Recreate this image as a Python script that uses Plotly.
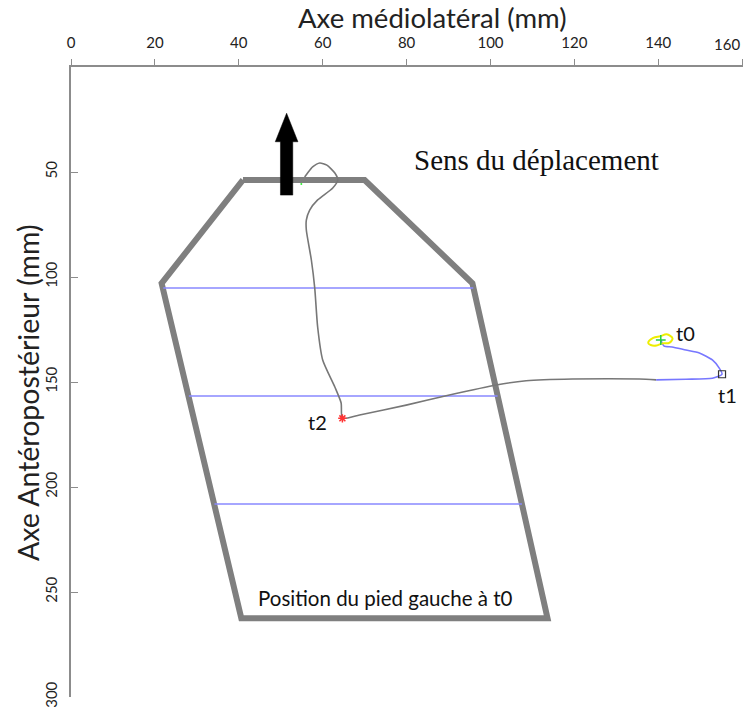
import plotly.graph_objects as go

# ---------------- data (mm) ----------------
x_ticks = [0, 20, 40, 60, 80, 100, 120, 140, 160]
x_tick_labels = ["0", "20", "40", "60", "80", "100", "120", "140", ""]
x_last_tick_label = "160"   # drawn right-aligned so it stays inside the page
y_ticks = [50, 100, 150, 200, 250, 300]

x_title = "Axe médiolatéral (mm)"
y_title = "Axe Antéropostérieur (mm)"

# outline of the left foot at t0 (closed polygon)
foot_x = [41.0, 70.0, 95.7, 113.6, 40.6, 21.6, 41.0]
foot_y = [53.8, 53.8, 103.0, 262.5, 262.5, 103.0, 53.8]

# horizontal bands inside the foot
band_y = [105.2, 156.7, 208.1]
band_x_start = [22.0, 28.1, 34.2]
band_x_end = [95.9, 101.7, 107.5]

# trajectory t0 -> t1 (blue part)
blue_path_x = [140.6, 141.4, 143.3, 146.6, 149.8, 152.9, 154.5, 155.2, 152.9, 146.6, 139.5]
blue_path_y = [130.0, 132.9, 133.3, 134.8, 136.2, 139.5, 143.3, 146.3, 148.2, 148.7, 149.0]

# trajectory t1 -> t2 -> end (grey part)
grey_path_x = [139.5, 135.5, 119.5, 108.5, 101.4, 90.2, 79.9, 68.8, 64.7, 64.4, 62.9,
               60.0, 58.8, 58.1, 57.3, 56.1, 56.1, 56.9, 58.8, 62.4, 63.6, 62.9, 61.0,
               59.3, 57.6, 56.4, 55.7]
grey_path_y = [149.0, 148.6, 148.6, 149.4, 151.4, 156.2, 161.0, 165.7, 167.3, 160.0, 152.4,
               139.5, 123.8, 105.2, 91.9, 77.6, 72.9, 68.1, 63.3, 57.6, 53.8, 50.5, 46.7,
               45.7, 47.6, 50.5, 52.4]

# small yellow scribble around t0
scribble_x = [137.6, 138.8, 140.5, 142.0, 143.4, 142.6, 141.0, 139.6, 138.2, 137.6]
scribble_y = [131.4, 129.0, 128.2, 127.3, 129.2, 131.4, 131.6, 132.6, 132.4, 131.4]

# key instants
t0_point = (140.6, 130.0)
t1_point = (155.2, 146.3)
t2_point = (64.7, 167.3)
green_dot = (54.9, 55.7)

event_labels = ["t0", "t1", "t2"]
event_label_x = [146.4, 156.4, 58.8]
event_label_y = [126.6, 156.2, 169.0]

direction_text = "Sens du déplacement"
foot_text = "Position du pied gauche à t0"

# direction arrow (mm)
arrow_x = 51.4
arrow_tip_y = 22.0
arrow_head_base_y = 35.6
arrow_tail_y = 61.0
arrow_head_half = 2.7
arrow_shaft_half = 1.47

# ---------------- figure ----------------
fig = go.Figure()

fig.add_trace(go.Scatter(
    x=foot_x, y=foot_y, mode="lines",
    line=dict(color="#7f7f7f", width=6), hoverinfo="skip", showlegend=False))

bx, by = [], []
for yy, xa, xb in zip(band_y, band_x_start, band_x_end):
    bx += [xa, xb, None]
    by += [yy, yy, None]
fig.add_trace(go.Scatter(
    x=bx, y=by, mode="lines",
    line=dict(color="#8888ff", width=1.5), hoverinfo="skip", showlegend=False))

fig.add_trace(go.Scatter(
    x=grey_path_x, y=grey_path_y, mode="lines",
    line=dict(color="#777777", width=1.6, shape="spline", smoothing=0.6),
    hoverinfo="skip", showlegend=False))

fig.add_trace(go.Scatter(
    x=blue_path_x, y=blue_path_y, mode="lines",
    line=dict(color="#7777ff", width=1.6, shape="spline", smoothing=0.6),
    hoverinfo="skip", showlegend=False))

fig.add_trace(go.Scatter(
    x=scribble_x, y=scribble_y, mode="lines",
    line=dict(color="#eeee00", width=2, shape="spline"),
    hoverinfo="skip", showlegend=False))

fig.add_trace(go.Scatter(
    x=[t0_point[0]], y=[t0_point[1]], mode="markers",
    marker=dict(symbol="cross-thin", size=7, color="#22cc44",
                line=dict(color="#22cc44", width=1.5)),
    hoverinfo="skip", showlegend=False))

fig.add_trace(go.Scatter(
    x=[t1_point[0]], y=[t1_point[1]], mode="markers",
    marker=dict(symbol="square-open", size=7, color="#333333",
                line=dict(color="#333333", width=1.2)),
    hoverinfo="skip", showlegend=False))

fig.add_trace(go.Scatter(
    x=[t2_point[0]], y=[t2_point[1]], mode="markers",
    marker=dict(symbol="asterisk-open", size=7, color="#ff3333",
                line=dict(color="#ff3333", width=1.5)),
    hoverinfo="skip", showlegend=False))

fig.add_trace(go.Scatter(
    x=[green_dot[0]], y=[green_dot[1]], mode="markers",
    marker=dict(symbol="circle", size=2, color="#33ee33"),
    hoverinfo="skip", showlegend=False))

# arrow polygon built from its parameters
arrow_poly_x = [arrow_x, arrow_x + arrow_head_half, arrow_x + arrow_shaft_half,
                arrow_x + arrow_shaft_half, arrow_x - arrow_shaft_half,
                arrow_x - arrow_shaft_half, arrow_x - arrow_head_half, arrow_x]
arrow_poly_y = [arrow_tip_y, arrow_head_base_y, arrow_head_base_y, arrow_tail_y,
                arrow_tail_y, arrow_head_base_y, arrow_head_base_y, arrow_tip_y]
fig.add_trace(go.Scatter(
    x=arrow_poly_x, y=arrow_poly_y, mode="lines", fill="toself",
    fillcolor="black", line=dict(color="black", width=0.5),
    hoverinfo="skip", showlegend=False))

# labels
for lab, lx, ly in zip(event_labels, event_label_x, event_label_y):
    fig.add_annotation(x=lx, y=ly, text=lab, showarrow=False,
                       font=dict(family="Lato", size=20, color="#111111"))

fig.add_annotation(x=81.4, y=44.3, text=direction_text, showarrow=False,
                   xanchor="left",
                   font=dict(family="Liberation Serif", size=29, color="#111111"))
fig.add_annotation(x=75.0, y=252.9, text=foot_text, showarrow=False,
                   font=dict(family="Lato", size=20.5, color="#111111"))

# last x tick label, right-aligned on its tick
fig.add_annotation(x=x_ticks[-1], xref="x", yref="paper", y=1.0,
                   xanchor="right", yanchor="bottom", yshift=12,
                   text=x_last_tick_label, showarrow=False,
                   font=dict(family="Lato", size=15, color="#222222"))

# axis titles (placed as in the original, slightly off-centre)
fig.add_annotation(xref="paper", yref="paper", x=0.537, y=1.0,
                   xanchor="center", yanchor="bottom", yshift=31,
                   text=x_title, showarrow=False,
                   font=dict(family="Lato", size=27.5, color="#222222"))
fig.add_annotation(xref="paper", yref="paper", x=0.0, y=0.4825,
                   xanchor="center", yanchor="middle", xshift=-43,
                   textangle=-90, text=y_title, showarrow=False,
                   font=dict(family="Lato", size=28.5, color="#222222"))

axis_color = "#8c8c8c"
fig.update_layout(
    width=743, height=709,
    margin=dict(l=71, r=0, t=67, b=12, autoexpand=False),
    paper_bgcolor="white", plot_bgcolor="white",
    showlegend=False,
    xaxis=dict(
        range=[0, 160.2], side="top", tickvals=x_ticks, ticktext=x_tick_labels,
        automargin=False,
        showline=True, linecolor=axis_color, linewidth=1.5, mirror=False,
        ticks="outside", ticklen=6, tickcolor=axis_color, tickwidth=1.2,
        showgrid=False, zeroline=False, ticklabelstandoff=5,
        tickfont=dict(family="Lato", size=15, color="#222222"),
    ),
    yaxis=dict(
        range=[300, 0], tickvals=y_ticks, tickangle=-90, automargin=False,
        showline=True, linecolor=axis_color, linewidth=1.5,
        ticks="inside", ticklen=7, tickcolor=axis_color, tickwidth=1.2,
        showgrid=False, zeroline=False, ticklabelstandoff=6,
        tickfont=dict(family="Lato", size=15, color="#222222"),
    ),
)

fig.write_html("out.html", config={"responsive": False, "displayModeBar": False},
               post_script="document.body.style.margin='0';")
